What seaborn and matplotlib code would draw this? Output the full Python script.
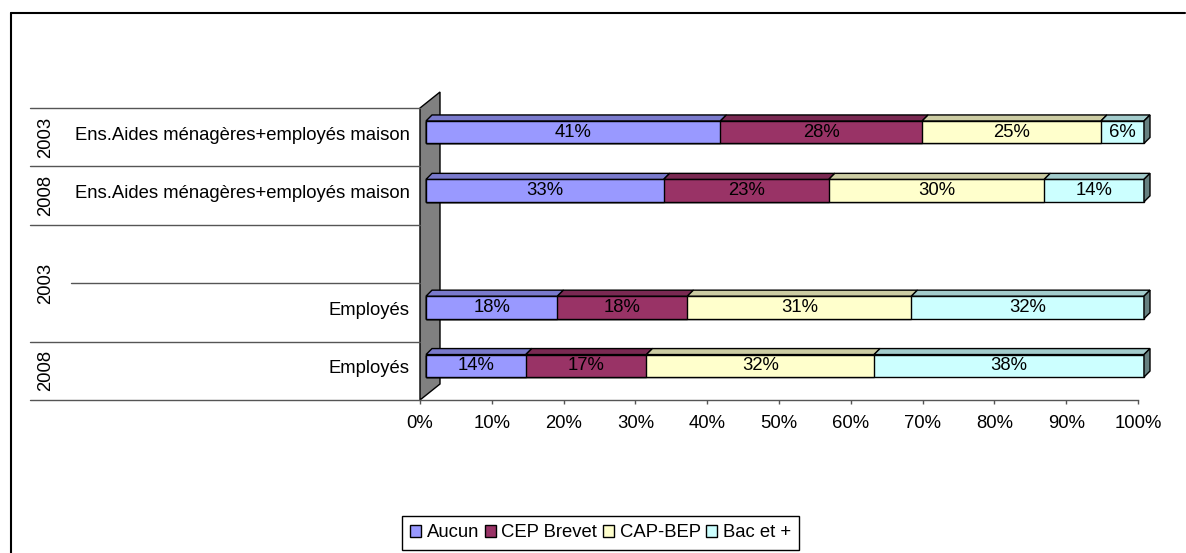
import numpy as np
import pandas as pd
import matplotlib.pyplot as plt
import matplotlib.transforms as mtransforms
from matplotlib.patches import Polygon, Patch
from matplotlib.colors import to_rgb
import seaborn as sns

# Données (en %)
lignes = ['r0', 'r1', 'r2', 'r3', 'r4']
groupes = ['Ens.Aides ménagères+employés maison', 'Ens.Aides ménagères+employés maison',
           '', 'Employés', 'Employés']
annees = [('2003', 0, 0), ('2008', 1, 1), ('2003', 2, 3), ('2008', 4, 4)]
niveaux = ['Aucun', 'CEP Brevet', 'CAP-BEP', 'Bac et +']
aucun = [41.0, 33.1, np.nan, 18.3, 13.9]
cep = [28.1, 23.0, np.nan, 18.1, 16.8]
cap = [24.9, 30.0, np.nan, 31.2, 31.7]
bac = [6.0, 13.9, np.nan, 32.4, 37.6]
couleurs = ['#9999FF', '#993366', '#FFFFCC', '#CCFFFF']
graduations = [0, 10, 20, 30, 40, 50, 60, 70, 80, 90, 100]

df = pd.DataFrame({'ligne': lignes, 'Aucun': aucun, 'CEP Brevet': cep,
                   'CAP-BEP': cap, 'Bac et +': bac})
cum = df[niveaux].cumsum(axis=1)
cum['ligne'] = lignes

sns.set_style('white')
plt.rcParams['font.family'] = ['Liberation Sans', 'DejaVu Sans']
plt.rcParams['font.size'] = 13.3
plt.rcParams['text.color'] = 'black'
plt.rcParams['xtick.labelcolor'] = 'black'

W, H = 1186, 553
fig = plt.figure(figsize=(W / 100, H / 100), dpi=100)
ax = fig.add_axes([420 / W, 1 - 400 / H, 718 / W, 292 / H])

hauteur = 0.385
# barres empilées : on dessine les cumuls du plus grand au plus petit
for niv, col in reversed(list(zip(niveaux, couleurs))):
    sns.barplot(data=cum, x=niv, y='ligne', order=lignes, orient='y', color=col,
                saturation=1, edgecolor='black', linewidth=1, width=hauteur,
                errorbar=None, ax=ax, zorder=3)
barres = list(ax.patches)

ax.set_xlim(0, 100)
ax.set_ylim(4.5, -0.5)

# décalage "3D" des barres
decal = ax.transData + mtransforms.Affine2D().translate(6, 5)
for p in barres:
    p.set_transform(decal)
    p.set_clip_on(False)

def fonce(c, f):
    return tuple(v * f for v in to_rgb(c))

prof = np.array([6, 6])
ident = mtransforms.IdentityTransform()

# mur gris à gauche
a0 = ax.transAxes.transform((0, 0))
a1 = ax.transAxes.transform((0, 1))
mur = [a0, a1, a1 + np.array([20, 16]), a0 + np.array([20, 16])]
ax.add_patch(Polygon(mur, closed=True, transform=ident, facecolor='#808080',
                     edgecolor='black', lw=1, clip_on=False, zorder=1))

for i in range(len(lignes)):
    if np.isnan(aucun[i]):
        continue
    gauche = 0
    for k, niv in enumerate(niveaux):
        v = df.loc[i, niv]
        droite = gauche + v
        p0 = decal.transform((gauche, i - hauteur / 2))
        p1 = decal.transform((droite, i - hauteur / 2))
        ax.add_patch(Polygon([p0, p1, p1 + prof, p0 + prof], closed=True, transform=ident,
                             facecolor=fonce(couleurs[k], 0.8), edgecolor='black',
                             lw=1, clip_on=False, zorder=4))
        ax.text(gauche + v / 2, i, f'{v:.0f}%', transform=decal, ha='center',
                va='center', zorder=6)
        gauche = droite
    q0 = decal.transform((gauche, i + hauteur / 2))
    q1 = decal.transform((gauche, i - hauteur / 2))
    ax.add_patch(Polygon([q0, q1, q1 + prof, q0 + prof], closed=True, transform=ident,
                         facecolor=fonce(couleurs[-1], 0.5), edgecolor='black',
                         lw=1, clip_on=False, zorder=4))

# étiquettes de catégories
ytr = ax.get_yaxis_transform()
for i, g in enumerate(groupes):
    ax.annotate(g, xy=(0, i), xycoords=ytr, xytext=(-10, 2), textcoords='offset pixels',
                ha='right', va='center')
for an, d, f in annees:
    ax.annotate(an, xy=(0, (d + f) / 2), xycoords=ytr, xytext=(46 - 420, 0),
                textcoords='offset pixels', ha='center', va='center', rotation=90)

# lignes de séparation de l'axe des catégories
for b in [-0.5, 0.5, 1.5, 3.5, 4.5]:
    ax.plot([-390 / 718, 0], [b, b], transform=ytr, color='#555555', lw=1, clip_on=False)
ax.plot([-349 / 718, 0], [2.5, 2.5], transform=ytr, color='#555555', lw=1, clip_on=False)

ax.set_xticks(graduations)
ax.set_xticklabels([f'{t}%' for t in graduations])
ax.set_yticks([])
ax.set_xlabel('')
ax.set_ylabel('')
for s in ['left', 'top', 'right']:
    ax.spines[s].set_visible(False)
ax.spines['bottom'].set_color('#555555')
ax.spines['bottom'].set_linewidth(1)
ax.tick_params(axis='x', bottom=True, length=3, width=1, color='#555555', pad=8)

# cadre extérieur
fig.add_artist(plt.Line2D([11 / W, 11 / W], [0, 1 - 13 / H], color='black', lw=1.5))
fig.add_artist(plt.Line2D([11 / W, 1185 / W], [1 - 13 / H, 1 - 13 / H], color='black', lw=1.5))

poignees = [Patch(facecolor=c, edgecolor='black', lw=1) for c in couleurs]
fig.legend(poignees, niveaux, loc='upper left', bbox_to_anchor=(402 / W, 1 - 516 / H),
           ncol=4, frameon=True, fancybox=False, edgecolor='black', framealpha=1,
           handlelength=0.6, handleheight=0.6, handletextpad=0.3, columnspacing=0.3,
           borderpad=0.45, borderaxespad=0)

fig.savefig('out.png', dpi=100)
